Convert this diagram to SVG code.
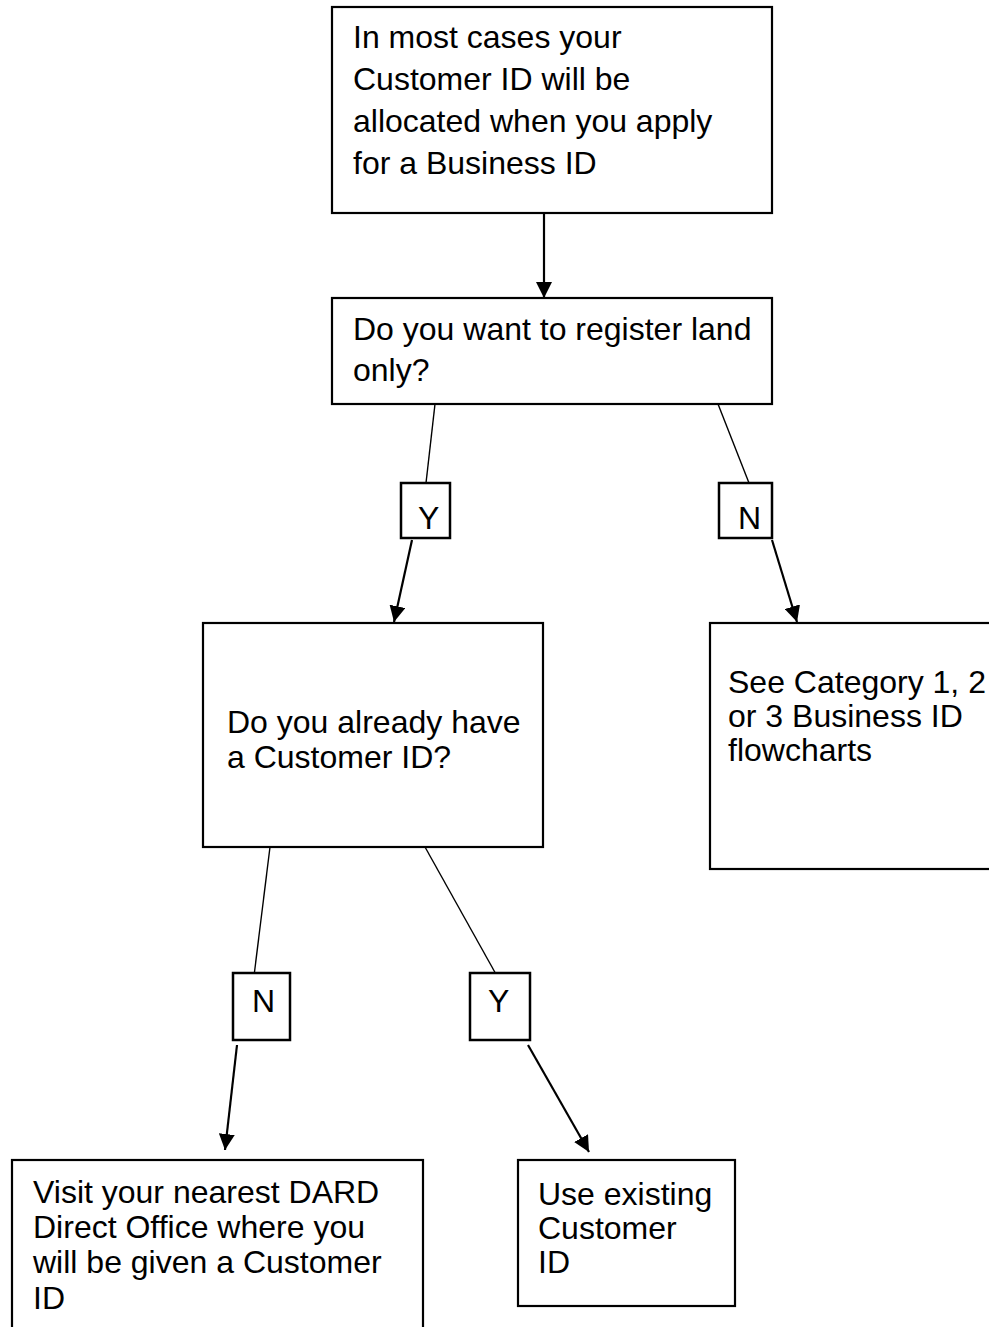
<svg xmlns="http://www.w3.org/2000/svg" width="989" height="1327" viewBox="0 0 989 1327">
<style>
.box{fill:#fff;stroke:#000;stroke-width:2.2}
.lbl{fill:#fff;stroke:#000;stroke-width:2.5}
.t{font-family:"Liberation Sans",Arial,sans-serif;font-size:32px;fill:#000}
.thin{stroke:#000;stroke-width:1.4;fill:none}
.arr{stroke:#000;stroke-width:2.2;fill:none;marker-end:url(#ah)}
</style>
<defs>
<marker id="ah" markerWidth="16" markerHeight="16" refX="16" refY="8" orient="auto" markerUnits="userSpaceOnUse" viewBox="0 0 16 16">
<path d="M0,0 L16,8 L0,16 z" fill="#000"/>
</marker>
</defs>
<rect width="989" height="1327" fill="#fff"/>
<g id="connectors">
<line class="arr" x1="544" y1="213" x2="544" y2="298"/>
<line class="thin" x1="435" y1="404" x2="426" y2="483"/>
<line class="arr" x1="412" y1="540" x2="394" y2="622"/>
<line class="thin" x1="718" y1="404" x2="749" y2="483"/>
<line class="arr" x1="772" y1="540" x2="797" y2="622"/>
<line class="thin" x1="270" y1="847" x2="254" y2="976"/>
<line class="arr" x1="237" y1="1045" x2="225" y2="1150"/>
<line class="thin" x1="425" y1="847" x2="497" y2="976"/>
<line class="arr" x1="528" y1="1045" x2="589" y2="1152"/>
</g>
<g id="n1">
<rect class="box" x="332" y="7" width="440" height="206"/>
<text class="t" x="353" y="48">In most cases your</text>
<text class="t" x="353" y="90">Customer ID will be</text>
<text class="t" x="353" y="132">allocated when you apply</text>
<text class="t" x="353" y="174">for a Business ID</text>
</g>
<g id="n2">
<rect class="box" x="332" y="298" width="440" height="106"/>
<text class="t" x="353" y="340">Do you want to register land</text>
<text class="t" x="353" y="381">only?</text>
</g>
<g id="lblY1">
<rect class="lbl" x="401" y="483" width="49" height="55"/>
<text class="t" x="418" y="529">Y</text>
</g>
<g id="lblN1">
<rect class="lbl" x="719" y="483" width="53" height="55"/>
<text class="t" x="738" y="529">N</text>
</g>
<g id="n3">
<rect class="box" x="203" y="623" width="340" height="224"/>
<text class="t" x="227" y="733">Do you already have</text>
<text class="t" x="227" y="768">a Customer ID?</text>
</g>
<g id="n4">
<rect class="box" x="710" y="623" width="290" height="246"/>
<text class="t" x="728" y="693">See Category 1, 2</text>
<text class="t" x="728" y="727">or 3 Business ID</text>
<text class="t" x="728" y="761">flowcharts</text>
</g>
<g id="lblN2">
<rect class="lbl" x="233" y="973" width="57" height="67"/>
<text class="t" x="252" y="1012">N</text>
</g>
<g id="lblY2">
<rect class="lbl" x="470" y="973" width="60" height="67"/>
<text class="t" x="488" y="1012">Y</text>
</g>
<g id="n5">
<rect class="box" x="12" y="1160" width="411" height="190"/>
<text class="t" x="33" y="1203">Visit your nearest DARD</text>
<text class="t" x="33" y="1238">Direct Office where you</text>
<text class="t" x="33" y="1273">will be given a Customer</text>
<text class="t" x="33" y="1309">ID</text>
</g>
<g id="n6">
<rect class="box" x="518" y="1160" width="217" height="146"/>
<text class="t" x="538" y="1205">Use existing</text>
<text class="t" x="538" y="1239">Customer</text>
<text class="t" x="538" y="1273">ID</text>
</g>
</svg>
